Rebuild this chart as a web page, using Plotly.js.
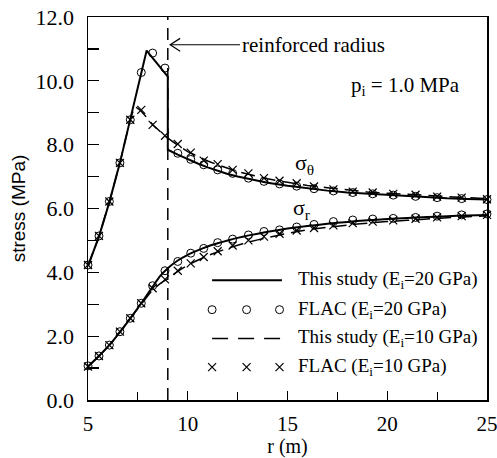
<!DOCTYPE html>
<html>
<head>
<meta charset="utf-8">
<script src="https://cdn.plot.ly/plotly-3.0.1.min.js"></script>
<style>html,body{margin:0;padding:0;background:#fff;}#chart{width:497px;height:458px;}</style>
</head>
<body>
<div id="chart"></div>
<script>
// ---- data ----
const reinforcedRadius = 9;

// This study, E_i = 20 GPa (solid)
const r20Theta = [5, 5.55, 6.07, 6.6, 7.12, 7.67, 7.94, 9, 9, 9.5, 10, 10.5, 11, 11.5, 12, 12.5, 13, 14, 15, 16, 17, 18, 19, 20, 21, 22, 23, 24, 25];
const s20Theta = [4.2, 5.12, 6.2, 7.43, 8.8, 10.28, 10.95, 10.13, 7.84, 7.69, 7.54, 7.41, 7.29, 7.18, 7.08, 7.0, 6.93, 6.81, 6.71, 6.63, 6.56, 6.5, 6.46, 6.42, 6.38, 6.35, 6.32, 6.3, 6.28];
const r20R = [5, 5.55, 6.07, 6.6, 7.12, 7.67, 8.24, 8.6, 9, 9.5, 10, 10.5, 11, 11.5, 12, 12.5, 13, 14, 15, 16, 17, 18, 19, 20, 21, 22, 23, 24, 25];
const s20R = [1.05, 1.38, 1.72, 2.13, 2.56, 3.03, 3.55, 3.87, 4.13, 4.37, 4.55, 4.69, 4.81, 4.91, 5.0, 5.08, 5.15, 5.27, 5.37, 5.45, 5.52, 5.58, 5.63, 5.67, 5.7, 5.73, 5.76, 5.78, 5.8];

// This study, E_i = 10 GPa (dashed)
const r10Theta = [5, 5.55, 6.07, 6.6, 7.12, 7.35, 7.67, 8.24, 8.86, 9, 9.5, 10, 10.5, 11, 11.5, 12, 12.5, 13, 14, 15, 16, 17, 18, 19, 20, 21, 22, 23, 24, 25];
const s10Theta = [4.2, 5.12, 6.2, 7.43, 8.8, 9.2, 9.05, 8.63, 8.27, 8.2, 7.98, 7.78, 7.63, 7.49, 7.37, 7.26, 7.16, 7.08, 6.93, 6.82, 6.72, 6.65, 6.58, 6.52, 6.48, 6.44, 6.4, 6.37, 6.34, 6.31];
const r10R = [5, 5.55, 6.07, 6.6, 7.12, 7.67, 8.24, 8.6, 9, 9.5, 10, 10.5, 11, 11.5, 12, 12.5, 13, 14, 15, 16, 17, 18, 19, 20, 21, 22, 23, 24, 25];
const s10R = [1.05, 1.38, 1.72, 2.13, 2.56, 3.0, 3.45, 3.64, 3.8, 4.03, 4.22, 4.38, 4.52, 4.64, 4.75, 4.85, 4.94, 5.09, 5.22, 5.33, 5.41, 5.48, 5.54, 5.59, 5.63, 5.67, 5.71, 5.74, 5.77];

// FLAC results (markers)
const rFlac = [5.0, 5.55, 6.07, 6.6, 7.12, 7.67, 8.24, 8.86, 9.5, 10.15, 10.8, 11.5, 12.25, 13.04, 13.82, 14.6, 15.46, 16.33, 17.3, 18.27, 19.27, 20.3, 21.42, 22.5, 23.73, 25];
const flac20Theta = [4.23, 5.14, 6.22, 7.43, 8.78, 10.26, 10.87, 10.4, 7.73, 7.54, 7.37, 7.21, 7.1, 6.95, 6.85, 6.77, 6.7, 6.62, 6.55, 6.5, 6.46, 6.42, 6.38, 6.34, 6.31, 6.28];
const flac20R = [1.07, 1.38, 1.72, 2.14, 2.56, 3.03, 3.58, 4.05, 4.34, 4.6, 4.75, 4.93, 5.04, 5.17, 5.28, 5.33, 5.42, 5.5, 5.59, 5.64, 5.67, 5.69, 5.72, 5.76, 5.8, 5.83];
const flac10Theta = [4.23, 5.14, 6.22, 7.43, 8.78, 9.09, 8.62, 8.28, 8.02, 7.75, 7.5, 7.39, 7.21, 7.1, 6.95, 6.87, 6.79, 6.69, 6.6, 6.53, 6.5, 6.46, 6.43, 6.37, 6.34, 6.29];
const flac10R = [1.05, 1.38, 1.72, 2.14, 2.56, 3.03, 3.5, 3.78, 4.05, 4.28, 4.48, 4.66, 4.84, 5.0, 5.12, 5.21, 5.31, 5.39, 5.47, 5.54, 5.59, 5.63, 5.68, 5.72, 5.76, 5.8];

const seriesNames = ['This study (E<sub>i</sub>=20 GPa)', 'FLAC (E<sub>i</sub>=20 GPa)', 'This study (E<sub>i</sub>=10 GPa)', 'FLAC (E<sub>i</sub>=10 GPa)'];
const xTickVals = [5, 10, 15, 20, 25];
const yTickVals = [0, 2, 4, 6, 8, 10, 12];

// ---- legend placement (data units of the axes) ----
const legendSymbolX = [11.22, 12.95, 14.6];
const legendLineX = [11.22, 14.72];
const legendTextX = 15.45;
const legendRowY = [3.75, 2.83, 1.93, 1.03];

const serif = 'Liberation Serif, Times New Roman, serif';
const solid = {color: '#000', width: 2};
const dashed = {color: '#000', width: 1.5, dash: '14px,7px'};
const circ = {symbol: 'circle-open', size: 8, color: '#000', line: {width: 1, color: '#000'}};
const cross = {symbol: 'x-thin-open', size: 8, color: '#000', line: {width: 1.2, color: '#000'}};

const traces = [
  {x: r20Theta, y: s20Theta, mode: 'lines', line: solid},
  {x: r20R, y: s20R, mode: 'lines', line: Object.assign({shape: 'spline', smoothing: 0.5}, solid)},
  {x: r10Theta, y: s10Theta, mode: 'lines', line: dashed},
  {x: r10R, y: s10R, mode: 'lines', line: Object.assign({shape: 'spline', smoothing: 0.5}, dashed)},
  {x: rFlac, y: flac20Theta, mode: 'markers', marker: circ},
  {x: rFlac, y: flac20R, mode: 'markers', marker: circ},
  {x: rFlac, y: flac10Theta, mode: 'markers', marker: cross},
  {x: rFlac, y: flac10R, mode: 'markers', marker: cross},
  // legend symbols
  {x: legendLineX, y: [legendRowY[0], legendRowY[0]], mode: 'lines', line: solid},
  {x: legendSymbolX, y: legendSymbolX.map(() => legendRowY[1]), mode: 'markers', marker: circ},
  {x: legendLineX, y: [legendRowY[2], legendRowY[2]], mode: 'lines', line: {color: '#000', width: 1.5, dash: '16px,10px'}},
  {x: legendSymbolX, y: legendSymbolX.map(() => legendRowY[3]), mode: 'markers', marker: cross}
].map(t => Object.assign({showlegend: false, hoverinfo: 'skip', cliponaxis: false}, t));

const annotations = seriesNames.map((name, i) => ({
  x: legendTextX, y: legendRowY[i], xref: 'x', yref: 'y', text: name, showarrow: false,
  xanchor: 'left', yanchor: 'middle', font: {family: serif, size: 19, color: '#000'}
}));
annotations.push(
  {x: reinforcedRadius + 0.12, y: 11.13, ax: 12.62, ay: 11.13, xref: 'x', yref: 'y', axref: 'x', ayref: 'y',
   text: 'reinforced radius', showarrow: true, arrowhead: 0, arrowwidth: 1.2, arrowcolor: '#000',
   xanchor: 'left', yanchor: 'middle', font: {family: serif, size: 21, color: '#000'}},
  {x: 20.9, y: 9.85, xref: 'x', yref: 'y', text: 'p<sub>i</sub> = 1.0 MPa', showarrow: false,
   font: {family: serif, size: 21, color: '#000'}},
  {x: 15.85, y: 7.38, xref: 'x', yref: 'y', text: 'σ<sub>θ</sub>', showarrow: false,
   font: {family: serif, size: 22, color: '#000'}},
  {x: 15.7, y: 5.97, xref: 'x', yref: 'y', text: 'σ<sub>r</sub>', showarrow: false,
   font: {family: serif, size: 22, color: '#000'}}
);

const headX = reinforcedRadius + 0.12, headY = 11.13, hx = 0.5, hy = 0.2;
const shapes = [
  {type: 'line', xref: 'x', yref: 'y', x0: reinforcedRadius, x1: reinforcedRadius, y0: 0, y1: 12,
   line: {color: '#000', width: 1.5, dash: '12px,8px'}},
  {type: 'path', xref: 'x', yref: 'y',
   path: `M ${headX + hx} ${headY + hy} L ${headX} ${headY} L ${headX + hx} ${headY - hy}`,
   line: {color: '#000', width: 1.2}}
];

const layout = {
  width: 497, height: 458,
  margin: {l: 88, r: 10, t: 17, b: 58, pad: 0},
  paper_bgcolor: '#fff', plot_bgcolor: '#fff',
  showlegend: false,
  font: {family: serif, size: 21, color: '#000'},
  xaxis: {
    range: [5, 25], tickvals: xTickVals, ticks: 'inside', ticklen: 9, tickwidth: 1.2, tickcolor: '#000',
    minor: {dtick: 2.5, tick0: 5, ticks: 'inside', ticklen: 8, tickwidth: 1.2, tickcolor: '#000', showgrid: false},
    showline: true, linewidth: 1.5, linecolor: '#000', mirror: true, showgrid: false, zeroline: false,
    ticklabelstandoff: 4, ticklabeloverflow: 'allow',
    tickfont: {family: serif, size: 21},
    title: {text: 'r (m)', font: {family: serif, size: 20}, standoff: 9}
  },
  yaxis: {
    range: [0, 12], tickvals: yTickVals, tickformat: '.1f', ticks: 'inside', ticklen: 11, tickwidth: 1.2, tickcolor: '#000',
    minor: {dtick: 1, tick0: 0, ticks: 'inside', ticklen: 11, tickwidth: 1.2, tickcolor: '#000', showgrid: false},
    showline: true, linewidth: 1.5, linecolor: '#000', mirror: true, showgrid: false, zeroline: false,
    ticklabelstandoff: 8, ticklabeloverflow: 'allow',
    tickfont: {family: serif, size: 22},
    title: {text: 'stress (MPa)', font: {family: 'Liberation Sans, Arial, sans-serif', size: 19}, standoff: 5}
  },
  annotations: annotations,
  shapes: shapes
};

Plotly.newPlot('chart', traces, layout, {staticPlot: true, displayModeBar: false});
</script>
</body>
</html>
